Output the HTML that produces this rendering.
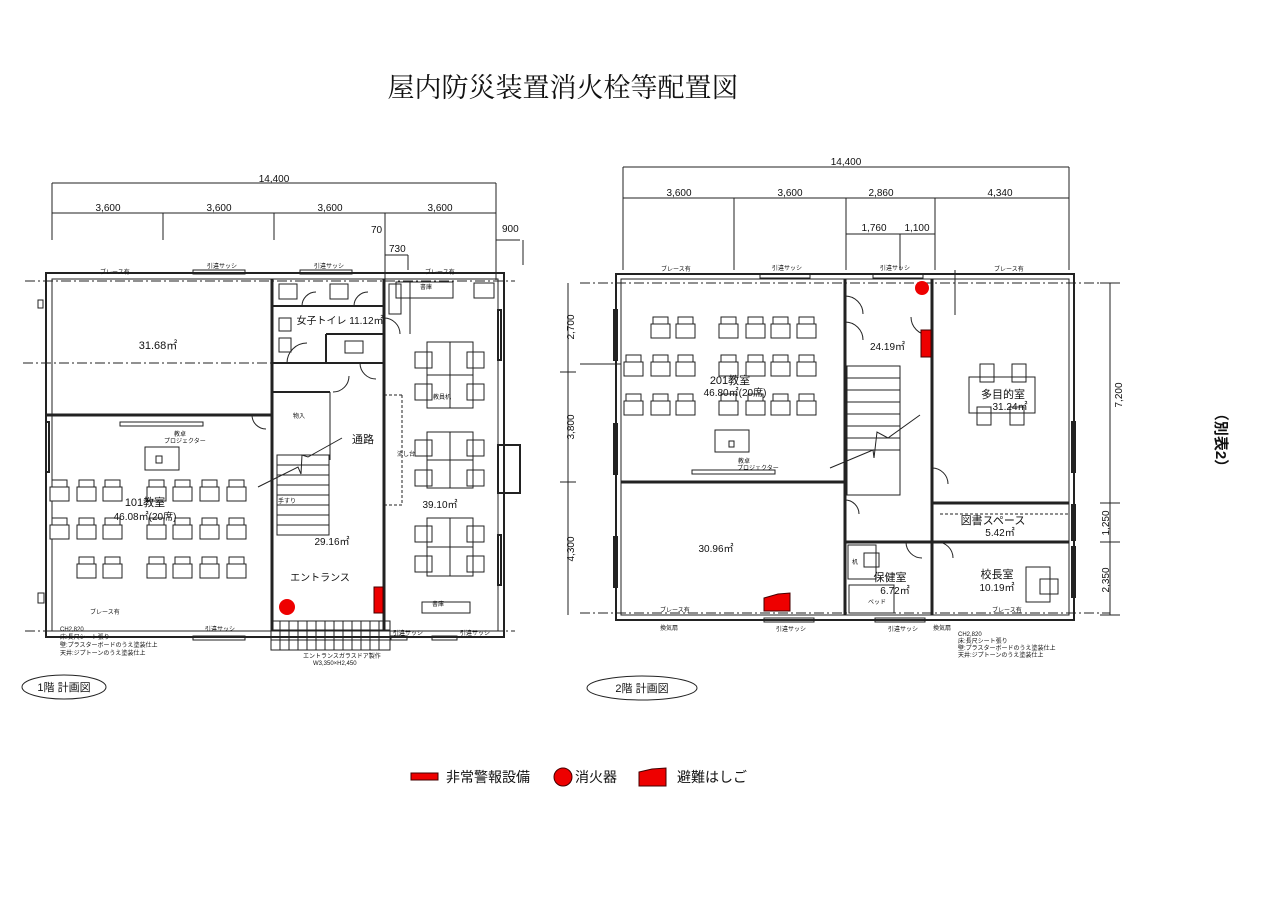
<!DOCTYPE html>
<html><head><meta charset="utf-8"><style>
html,body{margin:0;padding:0;background:#fff;width:1270px;height:904px;overflow:hidden}
svg{display:block}
text{font-family:"Liberation Sans","Noto Sans CJK JP",sans-serif;fill:#111}
</style></head><body>
<svg width="1270" height="904" viewBox="0 0 1270 904" xmlns="http://www.w3.org/2000/svg">
<defs>
<g id="ch"><rect x="2" y="0" width="15" height="11" fill="none" stroke="#222" stroke-width="1"/><rect x="0" y="7" width="19" height="14" fill="#fff" stroke="#222" stroke-width="1"/></g>
<g id="sq"><rect width="17" height="16" fill="none" stroke="#222" stroke-width="1"/></g>
</defs>
<text x="563" y="97" font-size="27" text-anchor="middle" style='font-family:"Liberation Serif","Noto Serif CJK SC",serif'>屋内防災装置消火栓等配置図</text>

<!-- ============ PLAN 1 ============ -->
<g stroke="#222" fill="none" stroke-width="1">
<line x1="52" y1="183" x2="496" y2="183"/>
<line x1="52" y1="213" x2="496" y2="213"/>
<line x1="52" y1="183" x2="52" y2="240"/><line x1="496" y1="183" x2="496" y2="240"/>
<line x1="163" y1="213" x2="163" y2="240"/><line x1="274" y1="213" x2="274" y2="240"/><line x1="385" y1="213" x2="385" y2="240"/>
<line x1="385" y1="230" x2="385" y2="290"/><line x1="496" y1="240" x2="496" y2="280"/><line x1="496" y1="240" x2="520" y2="240"/><line x1="523" y1="240" x2="523" y2="265"/>
<line x1="385" y1="255" x2="408" y2="255"/><line x1="408" y1="255" x2="408" y2="270"/>
<line x1="410" y1="282" x2="410" y2="334"/>
<rect x="46" y="273" width="458" height="364" stroke-width="2"/>
<rect x="52" y="279" width="446" height="352"/>
<line x1="25" y1="281" x2="515" y2="281" stroke-dasharray="10 3 2 3"/>
<line x1="25" y1="631" x2="515" y2="631" stroke-dasharray="10 3 2 3"/>
<line x1="23" y1="363" x2="272" y2="363" stroke-dasharray="10 3 2 3"/>
<line x1="46" y1="415" x2="272" y2="415" stroke-width="3"/>
<line x1="272" y1="279" x2="272" y2="631" stroke-width="3"/>
<line x1="384" y1="279" x2="384" y2="631" stroke-width="3"/>
<line x1="272" y1="306" x2="384" y2="306" stroke-width="2"/>
<line x1="272" y1="363" x2="384" y2="363" stroke-width="2"/>
<line x1="326" y1="334" x2="384" y2="334" stroke-width="2"/>
<line x1="326" y1="334" x2="326" y2="363" stroke-width="2"/>
<line x1="272" y1="392" x2="330" y2="392" stroke-width="2"/>
<line x1="330" y1="392" x2="330" y2="460"/>
<rect x="279" y="284" width="18" height="15"/><rect x="330" y="284" width="18" height="15"/>
<rect x="389" y="284" width="12" height="30"/><rect x="279" y="318" width="12" height="13"/><rect x="279" y="338" width="12" height="14"/>
<rect x="345" y="341" width="18" height="12"/>
<path d="M302 306 A14 14 0 0 1 316 292"/><path d="M354 306 A14 14 0 0 1 368 292"/>
<path d="M287 363 A20 20 0 0 1 307 343"/><path d="M360 363 A16 16 0 0 0 376 379"/>
<path d="M333 392 A16 16 0 0 0 349 376"/><path d="M384 318 A16 16 0 0 1 400 334"/>
<rect x="277" y="455" width="52" height="80"/>
<g stroke-width="1"><line x1="277" y1="465" x2="329" y2="465"/><line x1="277" y1="475" x2="329" y2="475"/><line x1="277" y1="485" x2="329" y2="485"/><line x1="277" y1="495" x2="329" y2="495"/><line x1="277" y1="505" x2="329" y2="505"/><line x1="277" y1="515" x2="329" y2="515"/><line x1="277" y1="525" x2="329" y2="525"/></g>
<polyline points="258,487 298,467 301,474 302,455 308,457 342,438"/>
<line x1="384" y1="395" x2="402" y2="395" stroke-dasharray="3 2"/><line x1="402" y1="395" x2="402" y2="505" stroke-dasharray="3 2"/><line x1="384" y1="505" x2="402" y2="505" stroke-dasharray="3 2"/>
<rect x="120" y="422" width="83" height="4"/>
<rect x="145" y="447" width="34" height="23"/><rect x="156" y="456" width="6" height="7"/>
<path d="M252 415 A14 14 0 0 0 266 429"/>
<rect x="46" y="422" width="3" height="50" stroke-width="2"/>
<rect x="38" y="300" width="5" height="8"/><rect x="38" y="593" width="6" height="10"/>
<rect x="396" y="282" width="57" height="16"/><rect x="474" y="283" width="20" height="15"/>
<rect x="427" y="342" width="46" height="66"/><line x1="450" y1="342" x2="450" y2="408"/><line x1="427" y1="375" x2="473" y2="375"/>
<rect x="427" y="432" width="46" height="56"/><line x1="450" y1="432" x2="450" y2="488"/><line x1="427" y1="460" x2="473" y2="460"/>
<rect x="427" y="518" width="46" height="58"/><line x1="450" y1="518" x2="450" y2="576"/><line x1="427" y1="547" x2="473" y2="547"/>
<rect x="422" y="602" width="48" height="11"/>
<rect x="498" y="445" width="22" height="48" stroke-width="2"/>
<rect x="498" y="310" width="3" height="50" stroke-width="2"/><rect x="498" y="535" width="3" height="50" stroke-width="2"/>
<rect x="193" y="270" width="52" height="4"/><rect x="300" y="270" width="52" height="4"/>
<rect x="193" y="636" width="52" height="4"/><rect x="432" y="636" width="25" height="4"/><rect x="391" y="636" width="16" height="4"/>
<path d="M271 621 H390 V650 H271 Z M271 630 H390 M271 640 H390 M280 621V650 M289 621V650 M298 621V650 M307 621V650 M316 621V650 M325 621V650 M334 621V650 M343 621V650 M352 621V650 M361 621V650 M370 621V650 M379 621V650"/>
<ellipse cx="64" cy="687" rx="42" ry="12"/>
</g>
<g stroke="#222" fill="none">
<use href="#ch" x="50" y="480"/><use href="#ch" x="77" y="480"/><use href="#ch" x="103" y="480"/><use href="#ch" x="147" y="480"/><use href="#ch" x="173" y="480"/><use href="#ch" x="200" y="480"/><use href="#ch" x="227" y="480"/>
<use href="#ch" x="50" y="518"/><use href="#ch" x="77" y="518"/><use href="#ch" x="103" y="518"/><use href="#ch" x="147" y="518"/><use href="#ch" x="173" y="518"/><use href="#ch" x="200" y="518"/><use href="#ch" x="227" y="518"/>
<use href="#ch" x="77" y="557"/><use href="#ch" x="103" y="557"/><use href="#ch" x="147" y="557"/><use href="#ch" x="173" y="557"/><use href="#ch" x="200" y="557"/><use href="#ch" x="227" y="557"/>
<use href="#sq" x="415" y="352"/><use href="#sq" x="467" y="352"/><use href="#sq" x="415" y="384"/><use href="#sq" x="467" y="384"/>
<use href="#sq" x="415" y="440"/><use href="#sq" x="467" y="440"/><use href="#sq" x="415" y="470"/><use href="#sq" x="467" y="470"/>
<use href="#sq" x="415" y="526"/><use href="#sq" x="467" y="526"/><use href="#sq" x="415" y="556"/><use href="#sq" x="467" y="556"/>
</g>
<circle cx="287" cy="607" r="8" fill="#e00"/>
<rect x="374" y="587" width="9" height="26" fill="#e00" stroke="#400"/>
<g font-size="10">
<text x="274" y="182" text-anchor="middle">14,400</text>
<text x="108" y="211" text-anchor="middle">3,600</text><text x="219" y="211" text-anchor="middle">3,600</text><text x="330" y="211" text-anchor="middle">3,600</text><text x="440" y="211" text-anchor="middle">3,600</text>
<text x="371" y="233">70</text><text x="389" y="252">730</text><text x="502" y="232">900</text>
<text x="158" y="349" font-size="11" text-anchor="middle">31.68㎡</text>
<text x="340" y="324" font-size="10" text-anchor="middle">女子トイレ 11.12㎡</text>
<text x="352" y="443" font-size="11">通路</text>
<text x="145" y="506" font-size="11" text-anchor="middle">101教室</text>
<text x="145" y="520" font-size="10" text-anchor="middle">46.08㎡(20席)</text>
<text x="332" y="545" font-size="10" text-anchor="middle">29.16㎡</text>
<text x="320" y="581" font-size="10" text-anchor="middle">エントランス</text>
<text x="440" y="508" font-size="10" text-anchor="middle">39.10㎡</text>
<text x="64" y="691" font-size="11" text-anchor="middle">1階 計画図</text>
</g>
<g font-size="6">
<text x="100" y="274">ブレース有</text><text x="207" y="268">引違サッシ</text><text x="314" y="268">引違サッシ</text><text x="425" y="274">ブレース有</text>
<text x="90" y="614">ブレース有</text><text x="205" y="631">引違サッシ</text><text x="393" y="635">引違サッシ</text><text x="460" y="635">引違サッシ</text>
<text x="174" y="436">教卓</text><text x="164" y="443">プロジェクター</text>
<text x="293" y="418">物入</text><text x="278" y="503">手すり</text>
<text x="60" y="631">CH2,820</text><text x="60" y="639">床:長尺シート張り</text><text x="60" y="647">壁:プラスターボードのうえ塗装仕上</text><text x="60" y="655">天井:ジプトーンのうえ塗装仕上</text>
<text x="303" y="658">エントランスガラスドア製作</text><text x="313" y="665">W3,350×H2,450</text>
<text x="433" y="399">教員机</text><text x="397" y="456">流し台</text><text x="432" y="606">書庫</text><text x="420" y="289">書庫</text>
</g>

<!-- ============ PLAN 2 ============ -->
<g stroke="#222" fill="none" stroke-width="1">
<line x1="623" y1="167" x2="1069" y2="167"/><line x1="623" y1="198" x2="1069" y2="198"/>
<line x1="623" y1="167" x2="623" y2="270"/><line x1="1069" y1="167" x2="1069" y2="270"/>
<line x1="734" y1="198" x2="734" y2="270"/><line x1="846" y1="198" x2="846" y2="270"/><line x1="935" y1="198" x2="935" y2="270"/>
<line x1="846" y1="234" x2="935" y2="234"/><line x1="900" y1="234" x2="900" y2="270"/>
<rect x="616" y="274" width="458" height="346" stroke-width="2"/>
<rect x="621" y="279" width="448" height="336"/>
<line x1="580" y1="283" x2="1110" y2="283" stroke-dasharray="10 3 2 3"/>
<line x1="580" y1="613" x2="1110" y2="613" stroke-dasharray="10 3 2 3"/>
<line x1="580" y1="364" x2="621" y2="364"/>
<line x1="621" y1="482" x2="845" y2="482" stroke-width="3"/>
<line x1="845" y1="279" x2="845" y2="615" stroke-width="3"/>
<line x1="932" y1="279" x2="932" y2="615" stroke-width="3"/>
<line x1="932" y1="503" x2="1069" y2="503" stroke-width="3"/>
<line x1="845" y1="542" x2="1069" y2="542" stroke-width="3"/>
<line x1="940" y1="514" x2="1069" y2="514" stroke-dasharray="3 2"/>
<line x1="1110" y1="283" x2="1110" y2="615"/>
<line x1="568" y1="283" x2="568" y2="615"/>
<line x1="1100" y1="283" x2="1120" y2="283"/><line x1="1100" y1="503" x2="1120" y2="503"/><line x1="1100" y1="542" x2="1120" y2="542"/><line x1="1100" y1="615" x2="1120" y2="615"/>
<line x1="560" y1="372" x2="576" y2="372"/><line x1="560" y1="482" x2="576" y2="482"/>
<line x1="955" y1="270" x2="955" y2="315"/>
<rect x="847" y="366" width="53" height="129"/>
<g><line x1="847" y1="378" x2="900" y2="378"/><line x1="847" y1="390" x2="900" y2="390"/><line x1="847" y1="402" x2="900" y2="402"/><line x1="847" y1="414" x2="900" y2="414"/><line x1="847" y1="426" x2="900" y2="426"/><line x1="847" y1="438" x2="900" y2="438"/><line x1="847" y1="450" x2="900" y2="450"/></g>
<polyline points="830,468 873,450 874,458 877,432 888,438 920,415"/>
<path d="M845 296 A18 18 0 0 1 863 314"/><path d="M845 322 A18 18 0 0 1 863 340"/>
<path d="M911 317 A18 18 0 0 0 929 335"/><path d="M932 468 A16 16 0 0 1 948 484"/>
<path d="M845 500 A14 14 0 0 1 859 514"/><path d="M906 542 A16 16 0 0 0 922 558"/><path d="M937 542 A16 16 0 0 1 953 558"/>
<rect x="848" y="545" width="28" height="34"/><rect x="864" y="553" width="15" height="14"/>
<rect x="849" y="585" width="45" height="28"/>
<rect x="1026" y="567" width="24" height="35"/><rect x="1040" y="579" width="18" height="15"/>
<rect x="969" y="377" width="66" height="36"/>
<rect x="980" y="364" width="14" height="18"/><rect x="1012" y="364" width="14" height="18"/><rect x="977" y="407" width="14" height="18"/><rect x="1010" y="407" width="14" height="18"/>
<rect x="715" y="430" width="34" height="22"/><rect x="729" y="441" width="5" height="6"/>
<rect x="692" y="470" width="83" height="4"/>
<rect x="760" y="274" width="50" height="4"/><rect x="873" y="274" width="50" height="4"/>
<rect x="764" y="618" width="50" height="4"/><rect x="875" y="618" width="50" height="4"/>
<rect x="614" y="310" width="3" height="50" stroke-width="2"/><rect x="614" y="424" width="3" height="50" stroke-width="2"/><rect x="614" y="537" width="3" height="50" stroke-width="2"/>
<rect x="1072" y="422" width="3" height="50" stroke-width="2"/><rect x="1072" y="505" width="3" height="35" stroke-width="2"/><rect x="1072" y="547" width="3" height="50" stroke-width="2"/>
<ellipse cx="642" cy="688" rx="55" ry="12"/>
</g>
<g stroke="#222" fill="none">
<use href="#ch" x="651" y="317"/><use href="#ch" x="676" y="317"/><use href="#ch" x="719" y="317"/><use href="#ch" x="746" y="317"/><use href="#ch" x="771" y="317"/><use href="#ch" x="797" y="317"/>
<use href="#ch" x="624" y="355"/><use href="#ch" x="651" y="355"/><use href="#ch" x="676" y="355"/><use href="#ch" x="719" y="355"/><use href="#ch" x="746" y="355"/><use href="#ch" x="771" y="355"/><use href="#ch" x="797" y="355"/>
<use href="#ch" x="624" y="394"/><use href="#ch" x="651" y="394"/><use href="#ch" x="676" y="394"/><use href="#ch" x="719" y="394"/><use href="#ch" x="746" y="394"/><use href="#ch" x="771" y="394"/><use href="#ch" x="797" y="394"/>
</g>
<circle cx="922" cy="288" r="7" fill="#e00"/>
<rect x="921" y="330" width="10" height="27" fill="#e00" stroke="#400"/>
<path d="M764 598 L778 594 L790 593 L790 611 L764 611 Z" fill="#e00" stroke="#400"/>
<g font-size="10">
<text x="846" y="165" text-anchor="middle">14,400</text>
<text x="679" y="196" text-anchor="middle">3,600</text><text x="790" y="196" text-anchor="middle">3,600</text><text x="881" y="196" text-anchor="middle">2,860</text><text x="1000" y="196" text-anchor="middle">4,340</text>
<text x="874" y="231" text-anchor="middle">1,760</text><text x="917" y="231" text-anchor="middle">1,100</text>
<text x="574" y="327" transform="rotate(-90 574 327)" text-anchor="middle">2,700</text>
<text x="574" y="427" transform="rotate(-90 574 427)" text-anchor="middle">3,800</text>
<text x="574" y="549" transform="rotate(-90 574 549)" text-anchor="middle">4,300</text>
<text x="1122" y="395" transform="rotate(-90 1122 395)" text-anchor="middle">7,200</text>
<text x="1109" y="523" transform="rotate(-90 1109 523)" text-anchor="middle">1,250</text>
<text x="1109" y="580" transform="rotate(-90 1109 580)" text-anchor="middle">2,350</text>
<text x="730" y="384" font-size="11" text-anchor="middle">201教室</text>
<text x="735" y="396" text-anchor="middle">46.80㎡(20席)</text>
<text x="870" y="350">24.19㎡</text>
<text x="1003" y="398" font-size="11" text-anchor="middle">多目的室</text><text x="1010" y="410" text-anchor="middle">31.24㎡</text>
<text x="993" y="524" font-size="11" text-anchor="middle">図書スペース</text><text x="1000" y="536" text-anchor="middle">5.42㎡</text>
<text x="716" y="552" text-anchor="middle">30.96㎡</text>
<text x="890" y="581" font-size="11" text-anchor="middle">保健室</text><text x="895" y="594" text-anchor="middle">6.72㎡</text>
<text x="997" y="578" font-size="11" text-anchor="middle">校長室</text><text x="997" y="591" text-anchor="middle">10.19㎡</text>
<text x="642" y="692" font-size="11" text-anchor="middle">2階 計画図</text>
</g>
<g font-size="6">
<text x="661" y="271">ブレース有</text><text x="772" y="270">引違サッシ</text><text x="880" y="270">引違サッシ</text><text x="994" y="271">ブレース有</text>
<text x="660" y="612">ブレース有</text><text x="992" y="612">ブレース有</text>
<text x="660" y="630">換気扇</text><text x="776" y="631">引違サッシ</text><text x="888" y="631">引違サッシ</text><text x="933" y="630">換気扇</text>
<text x="738" y="463">教卓</text><text x="737" y="470">プロジェクター</text>
<text x="852" y="564">机</text><text x="868" y="604">ベッド</text>
<text x="958" y="636">CH2,820</text><text x="958" y="643">床:長尺シート張り</text><text x="958" y="650">壁:プラスターボードのうえ塗装仕上</text><text x="958" y="657">天井:ジプトーンのうえ塗装仕上</text>
</g>

<rect x="411" y="773" width="27" height="7" fill="#e00" stroke="#400"/>
<text x="446" y="782" font-size="14">非常警報設備</text>
<circle cx="563" cy="777" r="9" fill="#e00" stroke="#400"/>
<text x="575" y="782" font-size="14">消火器</text>
<path d="M639 772 L652 769 L666 768 L666 786 L639 786 Z" fill="#e00" stroke="#400"/>
<text x="677" y="782" font-size="14">避難はしご</text>

<text x="1220" y="440" font-size="15" font-weight="bold" fill="#333" text-anchor="middle" dominant-baseline="middle" transform="rotate(90 1220 440)">（別表2）</text>
</svg>
</body></html>
